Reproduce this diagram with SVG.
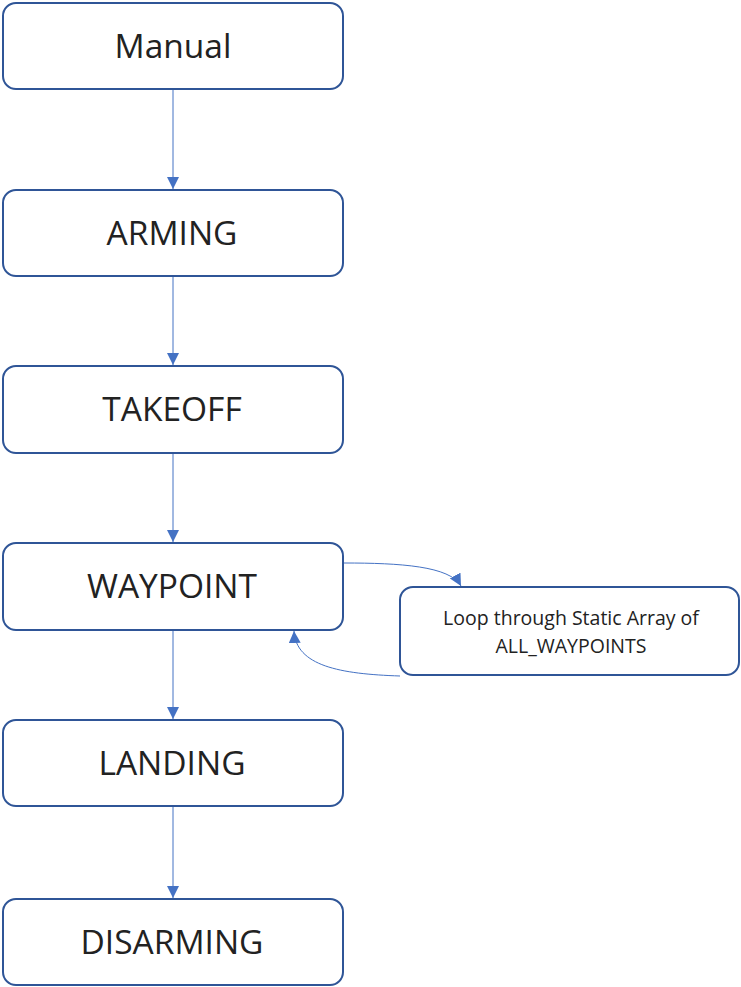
<svg xmlns="http://www.w3.org/2000/svg" width="741" height="987" viewBox="0 0 741 987">
<style>
.box{fill:#fff;stroke:#2F5597;stroke-width:2}
.lbl{font-family:"Open Sans","Noto Sans",sans-serif;font-size:33.5px;fill:#222;text-anchor:middle}
.small{font-family:"Open Sans","Noto Sans",sans-serif;font-size:19.5px;fill:#222;text-anchor:middle}
.conn{fill:none;stroke:#4472C4;stroke-width:1}
</style>
<defs>
<marker id="ah" markerWidth="12" markerHeight="12" refX="10" refY="5" orient="auto" markerUnits="userSpaceOnUse" viewBox="0 0 10 10">
<path d="M0,0 L10,5 L0,10 z" fill="#4472C4"/>
</marker>
</defs>
<g id="connectors">
<line class="conn" x1="173" y1="90" x2="173" y2="189" marker-end="url(#ah)"/>
<line class="conn" x1="173" y1="277" x2="173" y2="365" marker-end="url(#ah)"/>
<line class="conn" x1="173" y1="454" x2="173" y2="542" marker-end="url(#ah)"/>
<line class="conn" x1="173" y1="631" x2="173" y2="719" marker-end="url(#ah)"/>
<line class="conn" x1="173" y1="807" x2="173" y2="898" marker-end="url(#ah)"/>
<path class="conn" d="M344,563 C400,563 450,566 461,586" marker-end="url(#ah)"/>
<path class="conn" d="M400,676 C340,674 296,666 294,631" marker-end="url(#ah)"/>
</g>
<g id="manual"><rect class="box" x="3" y="3" width="340" height="86" rx="13"/><text class="lbl" x="173" y="58">Manual</text></g>
<g id="arming"><rect class="box" x="3" y="190" width="340" height="86" rx="13"/><text class="lbl" x="172" y="245">ARMING</text></g>
<g id="takeoff"><rect class="box" x="3" y="366" width="340" height="87" rx="13"/><text class="lbl" x="172" y="421">TAKEOFF</text></g>
<g id="waypoint"><rect class="box" x="3" y="543" width="340" height="87" rx="13"/><text class="lbl" x="172" y="598">WAYPOINT</text></g>
<g id="landing"><rect class="box" x="3" y="720" width="340" height="86" rx="13"/><text class="lbl" x="172" y="775">LANDING</text></g>
<g id="disarming"><rect class="box" x="3" y="899" width="340" height="86" rx="13"/><text class="lbl" x="172" y="954">DISARMING</text></g>
<g id="loop"><rect class="box" x="400" y="587" width="339" height="88" rx="13"/><text class="small" x="571" y="625">Loop through Static Array of</text><text class="small" x="571" y="653">ALL_WAYPOINTS</text></g>
</svg>
